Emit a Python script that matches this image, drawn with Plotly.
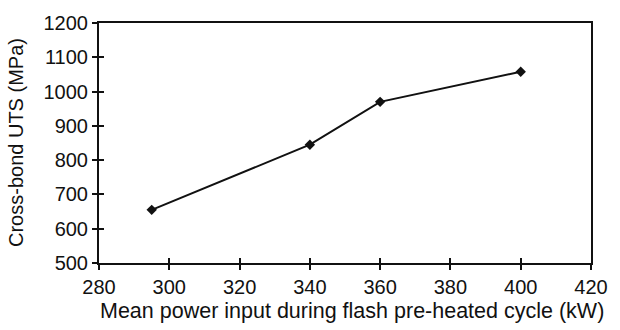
import plotly.graph_objects as go

power_kw = [295, 340, 360, 400]
uts_mpa = [655, 845, 970, 1058]
x_ticks = [280, 300, 320, 340, 360, 380, 400, 420]
y_ticks = [500, 600, 700, 800, 900, 1000, 1100, 1200]
x_title = "Mean power input during flash pre-heated cycle (kW)"
y_title = "Cross-bond UTS (MPa)"

font = dict(family="Liberation Sans, Arial, sans-serif", size=20, color="#111")

fig = go.Figure()
fig.add_trace(go.Scatter(
    x=power_kw, y=uts_mpa, mode="lines+markers",
    line=dict(color="#111", width=2),
    marker=dict(symbol="diamond", size=8, color="#111"),
    showlegend=False,
))
# invisible trace to activate overlay axes for inward tick halves
fig.add_trace(go.Scatter(x=[280], y=[500], xaxis="x2", yaxis="y2",
                         mode="markers", marker=dict(opacity=0), showlegend=False,
                         hoverinfo="skip"))

fig.update_layout(
    width=620, height=330,
    margin=dict(l=99, r=18, t=18, b=67),
    paper_bgcolor="white", plot_bgcolor="white",
    font=font,
    xaxis=dict(range=[280, 420], tickvals=x_ticks, ticks="outside", ticklen=5,
               tickwidth=1.5, tickcolor="#111", showline=True, linecolor="#111",
               linewidth=2, mirror=True, showgrid=False, zeroline=False,
               tickfont=font),
    yaxis=dict(range=[500, 1200], tickvals=y_ticks, ticks="outside", ticklen=5,
               tickwidth=1.5, tickcolor="#111", showline=True, linecolor="#111",
               linewidth=2, mirror=True, showgrid=False, zeroline=False,
               tickfont=font),
    xaxis2=dict(range=[280, 420], tickvals=x_ticks, ticks="inside", ticklen=5,
                tickwidth=1.5, tickcolor="#111", showticklabels=False,
                showgrid=False, zeroline=False, overlaying="x", anchor="y2"),
    yaxis2=dict(range=[500, 1200], tickvals=y_ticks, ticks="inside", ticklen=5,
                tickwidth=1.5, tickcolor="#111", showticklabels=False,
                showgrid=False, zeroline=False, overlaying="y", anchor="x2"),
    annotations=[
        dict(text=x_title, xref="paper", yref="paper", x=0.515, y=0,
             xanchor="center", yanchor="middle", yshift=-48, showarrow=False,
             font=dict(family=font["family"], size=21.5, color="#111")),
        dict(text=y_title, xref="paper", yref="paper", x=0, y=0.5,
             xanchor="center", yanchor="middle", xshift=-83, textangle=-90,
             showarrow=False, font=font),
    ],
)

fig.write_html("out.html")
